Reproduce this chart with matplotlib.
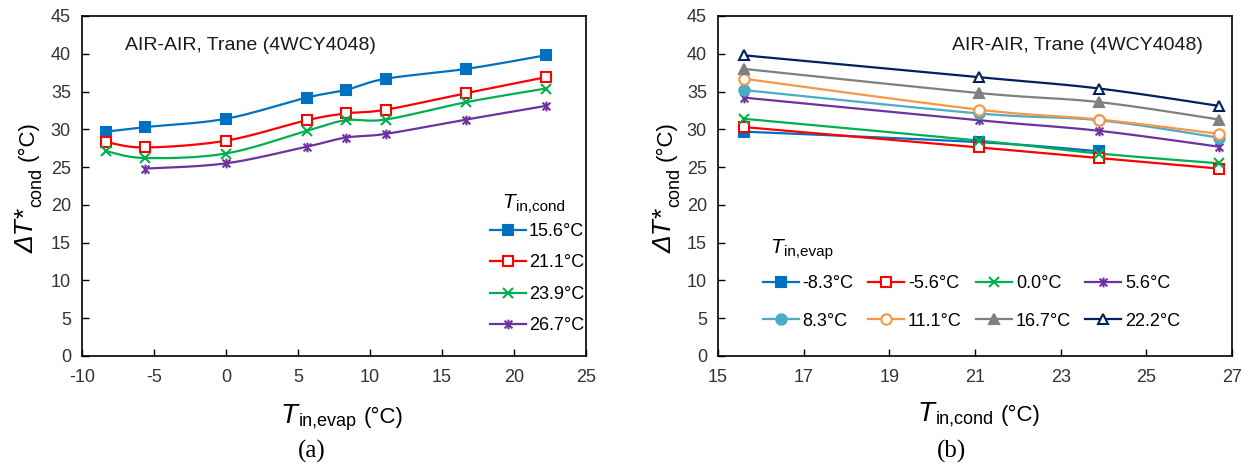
import numpy as np
import matplotlib
matplotlib.use('Agg')
import matplotlib.pyplot as plt
from matplotlib.lines import Line2D
from matplotlib.path import Path
from matplotlib.transforms import IdentityTransform

plt.rcParams['font.family'] = ['Liberation Sans', 'DejaVu Sans']
plt.rcParams['axes.unicode_minus'] = False

# data: dT*_cond (°C), one list per condenser inlet temperature
evap_temps = [-8.3, -5.6, 0.0, 5.6, 8.3, 11.1, 16.7, 22.2]
cond_temps = [15.6, 21.1, 23.9, 26.7]
dt_cond_15_6 = [29.7, 30.3, 31.4, 34.2, 35.2, 36.7, 38.0, 39.8]
dt_cond_21_1 = [28.3, 27.6, 28.5, 31.2, 32.1, 32.6, 34.8, 36.9]
dt_cond_23_9 = [27.1, 26.2, 26.8, 29.8, 31.2, 31.3, 33.6, 35.4]
dt_cond_26_7 = [np.nan, 24.8, 25.5, 27.7, 28.9, 29.4, 31.3, 33.1]
cond_labels = ['15.6°C', '21.1°C', '23.9°C', '26.7°C']
evap_labels = ['-8.3°C', '-5.6°C', '0.0°C', '5.6°C', '8.3°C', '11.1°C', '16.7°C', '22.2°C']
note = 'AIR-AIR, Trane (4WCY4048)'

W, H = 1256, 467
colors = ['#0070C0', '#FF0000', '#00B050', '#7030A0',
          '#4BACC6', '#F79646', '#808080', '#002060']
STAR = Path([(-1, -1), (1, 1), (-1, 1), (1, -1), (0, -1.25), (0, 1.25)],
            [Path.MOVETO, Path.LINETO] * 3)
styles = [('s', 'fill'), ('s', 'white'), ('x', None), (STAR, None),
          ('o', 'fill'), ('o', 'white'), ('^', 'fill'), ('^', 'white')]


def marker_kw(color, style):
    marker, face = style
    mfc = color if face == 'fill' else ('white' if face == 'white' else 'none')
    ms = 7.5 if marker in ('o', '^') else 7
    return dict(marker=marker, markersize=ms, markerfacecolor=mfc,
                markeredgecolor=color, markeredgewidth=1.5)


def smooth_xy(x, y, n=30):
    # Catmull-Rom style bezier, like Excel's "smoothed line"
    pts = np.column_stack([x, y])
    k = len(pts)
    t = np.linspace(0, 1, n)[:, None]
    out = [pts[:1]]
    for i in range(k - 1):
        p0, p1, p2, p3 = pts[max(i - 1, 0)], pts[i], pts[i + 1], pts[min(i + 2, k - 1)]
        c1 = p1 + (p2 - p0) / 6
        c2 = p2 - (p3 - p1) / 6
        seg = ((1 - t) ** 3) * p1 + 3 * ((1 - t) ** 2) * t * c1 + 3 * (1 - t) * t ** 2 * c2 + t ** 3 * p2
        out.append(seg[1:])
    out = np.vstack(out)
    return out[:, 0], out[:, 1]


def draw_series(ax, x, y, color, style):
    x = np.asarray(x, float)
    y = np.asarray(y, float)
    ok = ~np.isnan(y)
    x, y = x[ok], y[ok]
    sx, sy = smooth_xy(x, y)
    ax.plot(sx, sy, color=color, lw=1.6, zorder=2)
    ax.plot(x, y, ls='none', zorder=3, **marker_kw(color, style))


def handle(color, style):
    return Line2D([], [], color=color, lw=1.6, **marker_kw(color, style))


def style_axes(ax, xlim, xticks):
    ax.set_xlim(*xlim)
    ax.set_xticks(xticks)
    ax.set_ylim(0, 45)
    ax.set_yticks(range(0, 46, 5))
    ax.tick_params(direction='in', length=5, width=1, labelsize=13, labelcolor='#333333')
    ax.tick_params(axis='y', pad=8)
    ax.tick_params(axis='x', pad=9)
    for sp in ax.spines.values():
        sp.set_linewidth(1.2)
        sp.set_color('black')


def place_label(fig, pieces, x, y, rotation=0, align='center'):
    """pieces: (text, size, style, drop_px, gap_px); x, y in pixels from top-left."""
    r = fig.canvas.get_renderer()
    y = H - y
    items, total = [], 0
    for text, size, style, drop, gap in pieces:
        t = fig.text(0, 0, text, fontsize=size, fontstyle=style, ha='left', va='baseline',
                     rotation=rotation, rotation_mode='anchor', color='black',
                     transform=IdentityTransform())
        bb = t.get_window_extent(r)
        w = bb.width if rotation == 0 else bb.height
        items.append((t, gap, w, drop))
        total += gap + w
    pos = -total / 2 if align == 'center' else 0
    for t, gap, w, drop in items:
        pos += gap
        if rotation == 0:
            t.set_position((x + pos, y - drop))
        else:
            t.set_position((x + drop, y + pos))
        pos += w


fig = plt.figure(figsize=(W / 100, H / 100), dpi=100)
ax1 = fig.add_axes([82 / W, 1 - 356 / H, 504 / W, 340 / H])
ax2 = fig.add_axes([718 / W, 1 - 356 / H, 514 / W, 340 / H])

# (a) dT*_cond vs evaporator inlet temperature
left_series = [dt_cond_15_6, dt_cond_21_1, dt_cond_23_9, dt_cond_26_7]
for i, vals in enumerate(left_series):
    draw_series(ax1, evap_temps, vals, colors[i], styles[i])
style_axes(ax1, (-10, 25), range(-10, 26, 5))
ax1.text(0.085, 0.9, note, transform=ax1.transAxes, fontsize=14, color='#1a1a1a')
ax1.legend([handle(colors[i], styles[i]) for i in range(4)], cond_labels,
           loc='upper left', bbox_to_anchor=(490 / W, 1 - 223 / H), bbox_transform=fig.transFigure,
           frameon=False, fontsize=13, borderpad=0, borderaxespad=0,
           handlelength=2.0, handletextpad=0.15, labelspacing=0.8)

# (b) same data against condenser inlet temperature
table = np.array(left_series)
for j in range(len(evap_temps)):
    draw_series(ax2, cond_temps, table[:, j], colors[j], styles[j])
style_axes(ax2, (15, 27), range(15, 28, 2))
ax2.text(0.944, 0.9, note, transform=ax2.transAxes, fontsize=14, color='#1a1a1a', ha='right')
order = [0, 4, 1, 5, 2, 6, 3, 7]
ax2.legend([handle(colors[j], styles[j]) for j in order], [evap_labels[j] for j in order],
           ncol=4, loc='upper left', bbox_to_anchor=(763 / W, 1 - 275 / H), bbox_transform=fig.transFigure,
           frameon=False, fontsize=13, borderpad=0, borderaxespad=0,
           handlelength=2.0, handletextpad=0.2, labelspacing=1.15, columnspacing=0.8)

# legend titles
place_label(fig, [('T', 15, 'italic', 0, 0), ('in,cond', 11, 'normal', 3, 1)], 502, 208, align='left')
place_label(fig, [('T', 15, 'italic', 0, 0), ('in,evap', 11, 'normal', 3, 1)], 770, 253, align='left')

# axis labels
place_label(fig, [('T', 20, 'italic', 0, 0), ('in,evap', 13, 'normal', 3, 1), ('(°C)', 16, 'normal', 0, 7)], 342, 423)
place_label(fig, [('T', 20, 'italic', 0, 0), ('in,cond', 13, 'normal', 3, 1), ('(°C)', 16, 'normal', 0, 7)], 979, 421)
for bx in (34, 672):
    place_label(fig, [('ΔT*', 19, 'italic', 0, 0), ('cond', 13, 'normal', 7, 1), ('(°C)', 16, 'normal', 0, 7)],
                bx, 187, rotation=90)

fig.text(312 / W, 1 - 458 / H, '(a)', fontsize=18, family='Liberation Serif', ha='center', va='baseline')
fig.text(951 / W, 1 - 458 / H, '(b)', fontsize=18, family='Liberation Serif', ha='center', va='baseline')

fig.savefig('out.png', dpi=100)
